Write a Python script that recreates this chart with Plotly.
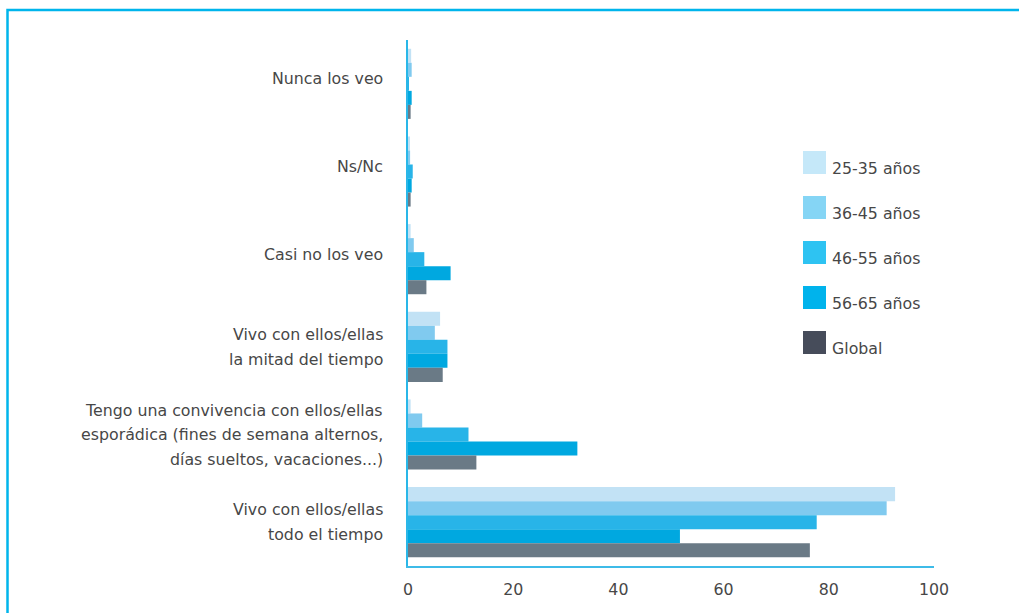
import plotly.graph_objects as go

categories = [
    "Nunca los veo",
    "Ns/Nc",
    "Casi no los veo",
    "Vivo con ellos/ellas<br>la mitad del tiempo",
    "Tengo una convivencia con ellos/ellas<br>esporádica (fines de semana alternos,<br>días sueltos, vacaciones...)",
    "Vivo con ellos/ellas<br>todo el tiempo",
]
series_names = ["25-35 años", "36-45 años", "46-55 años", "56-65 años", "Global"]
v_25_35 = [0.6, 0.2, 0.5, 6.1, 0.5, 92.6]
v_36_45 = [0.7, 0.4, 1.1, 5.1, 2.7, 91.0]
v_46_55 = [0.1, 0.9, 3.1, 7.5, 11.5, 77.7]
v_56_65 = [0.7, 0.7, 8.1, 7.5, 32.2, 51.7]
v_global = [0.5, 0.5, 3.5, 6.6, 13.0, 76.4]
values = [v_25_35, v_36_45, v_46_55, v_56_65, v_global]
bar_colors = ["#C2E2F5", "#80CAEF", "#28B4E8", "#00A8E0", "#6A7A86"]
legend_colors = ["#C5E8F9", "#85D5F5", "#2EC3F2", "#00B3EC", "#464C5A"]
x_ticks = [0, 20, 40, 60, 80, 100]

W, H = 1019, 613
L, R, T, B = 408, 934, 40, 566
pw, ph = R - L, B - T

font_family = "'DejaVu Sans', sans-serif"
text_color = "#474747"
FS = 15.8

fig = go.Figure()
for name, vals, col in zip(series_names, values, bar_colors):
    fig.add_trace(go.Bar(
        y=categories, x=vals, name=name, orientation="h",
        marker=dict(color=col, line=dict(width=0)),
        showlegend=False, hoverinfo="x+name",
    ))

def px_x(px):
    return (px - L) / pw

def px_y(py):
    return (B - py) / ph

shapes = []
annotations = []
# frame
shapes.append(dict(type="rect", xref="paper", yref="paper",
                   x0=px_x(7.5), x1=px_x(1100), y0=px_y(700), y1=px_y(10),
                   line=dict(color="#00B5EC", width=2.5), fillcolor="rgba(0,0,0,0)", layer="below"))
# category labels, one annotation per line
line_gap = 24.5
for cat in categories:
    lines = cat.split("<br>")
    n = len(lines)
    for i, ln in enumerate(lines):
        offset = (i - (n - 1) / 2) * line_gap
        if n == 1:
            offset -= 5
        annotations.append(dict(xref="paper", yref="y", x=px_x(385), y=cat,
                                yshift=-offset, text=ln, showarrow=False,
                                xanchor="right", yanchor="middle",
                                font=dict(family=font_family, size=FS, color=text_color)))
# legend
for i, (name, col) in enumerate(zip(series_names, legend_colors)):
    top = 151 + 45 * i
    shapes.append(dict(type="rect", xref="paper", yref="paper",
                       x0=px_x(803), x1=px_x(826), y0=px_y(top + 23), y1=px_y(top),
                       line=dict(width=0), fillcolor=col))
    annotations.append(dict(xref="paper", yref="paper", x=px_x(830), y=px_y(top + 17),
                            text=name, showarrow=False, xanchor="left", yanchor="middle",
                            font=dict(family=font_family, size=FS, color=text_color)))

fig.update_layout(
    width=W, height=H,
    margin=dict(l=L, r=W - R, t=T, b=H - B, pad=0),
    paper_bgcolor="white", plot_bgcolor="white",
    barmode="group", bargap=0.2, bargroupgap=0,
    font=dict(family=font_family, size=FS, color=text_color),
    shapes=shapes, annotations=annotations,
    xaxis=dict(range=[0, 100], tickvals=x_ticks, showgrid=False, zeroline=False,
               showline=True, linecolor="#3DBBE8", linewidth=2, ticks="",
               ticklabelstandoff=8, tickfont=dict(size=FS, color=text_color), fixedrange=True),
    yaxis=dict(autorange="reversed", showgrid=False, zeroline=False,
               showline=True, linecolor="#2AB7E8", linewidth=2, ticks="",
               showticklabels=False, fixedrange=True),
)

fig.write_html("out.html", config={"displayModeBar": False},
               post_script="document.body.style.margin='0';")
